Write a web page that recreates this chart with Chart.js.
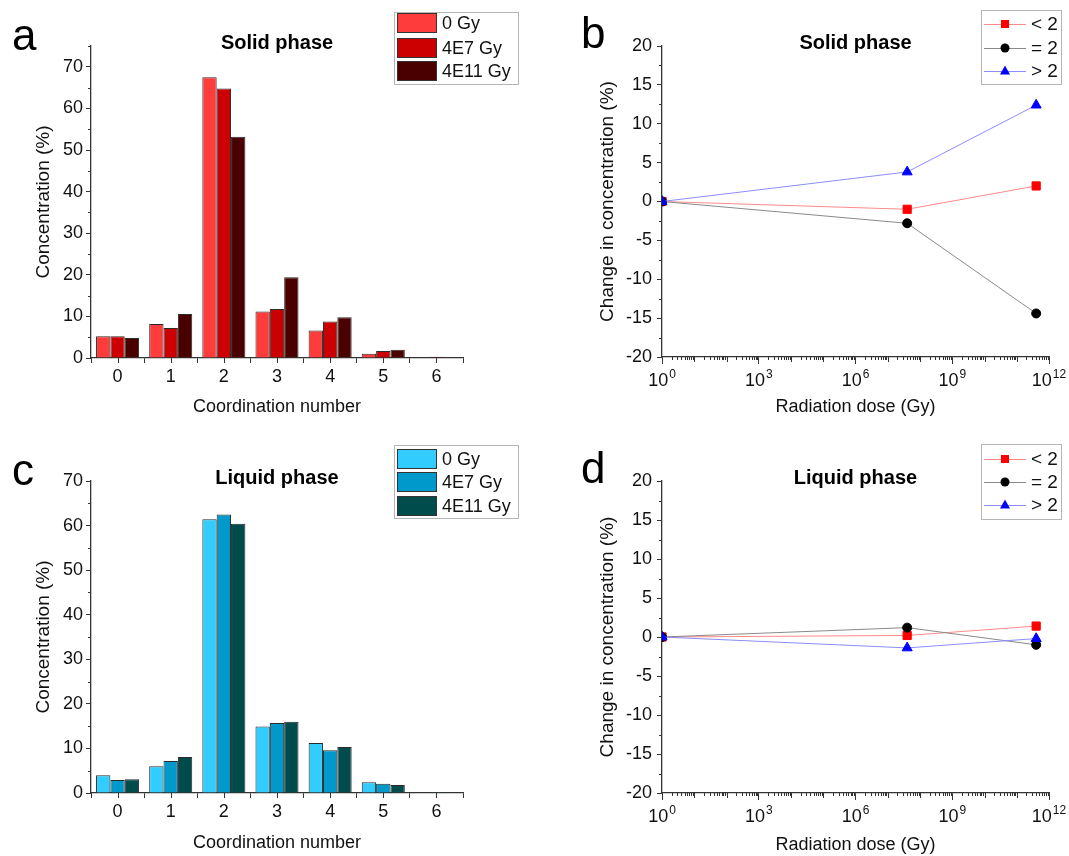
<!DOCTYPE html>
<html><head><meta charset="utf-8">
<script src="https://cdn.jsdelivr.net/npm/chart.js@4.4.1/dist/chart.umd.min.js"></script>
<style>
html,body{margin:0;padding:0;background:#fff;}
body{width:1069px;height:856px;position:relative;overflow:hidden;}
canvas{position:absolute;}
</style></head><body>
<canvas id="ca" width="534" height="428" style="left:0;top:0"></canvas>
<canvas id="cb" width="535" height="428" style="left:534px;top:0"></canvas>
<canvas id="cc" width="534" height="428" style="left:0;top:428px"></canvas>
<canvas id="cd" width="535" height="428" style="left:534px;top:428px"></canvas>
<script>
// ---------- data ----------
const categories = ['0','1','2','3','4','5','6'];
const doseLabels = ['0 Gy','4E7 Gy','4E11 Gy'];
const solid0    = [5.2, 8.2, 67.5, 11.2, 6.6, 1.0, 0.1];
const solid4E7  = [5.2, 7.2, 64.8, 11.8, 8.8, 1.7, 0.3];
const solid4E11 = [4.8, 10.6, 53.2, 19.4, 9.8, 2.0, 0.1];
const liquid0    = [4.0, 6.0, 61.4, 14.9, 11.2, 2.4, 0.1];
const liquid4E7  = [2.9, 7.2, 62.5, 15.7, 9.6, 2.1, 0.05];
const liquid4E11 = [3.1, 8.1, 60.4, 16.0, 10.3, 1.8, 0.1];
const barTicks = [0,10,20,30,40,50,60,70];

const doses = [1, 4e7, 4e11];
const groupLabels = ['< 2', '= 2', '> 2'];
const solidLt2 = [0, -1.0, 2.0];
const solidEq2 = [0, -2.8, -14.4];
const solidGt2 = [0, 3.8, 12.4];
const liquidLt2 = [0, 0.2, 1.4];
const liquidEq2 = [0, 1.2, -1.0];
const liquidGt2 = [0, -1.4, -0.2];
const logTickExps = [0, 3, 6, 9, 12];
const lineTicks = [-20,-15,-10,-5,0,5,10,15,20];

// ---------- styling ----------
const FONT = "'Liberation Sans', Arial, sans-serif";
const AX = '#333';
const redColors = ['#ff3c3c', '#cc0000', '#4b0000'];
const cyanColors = ['#33ccff', '#0099cc', '#004b4b'];
const lineStyles = [
  {line:'#ff8a8a', marker:'#ff0000', point:'rect'},
  {line:'#8a8a8a', marker:'#000000', point:'circle'},
  {line:'#8c8cff', marker:'#0000ff', point:'triangle'}
];

function drawMarker(ctx, style, x, y, color){
  ctx.fillStyle = color;
  ctx.beginPath();
  if (style === 'rect') { ctx.rect(x-4, y-4, 8, 8); }
  else if (style === 'circle') { ctx.arc(x, y, 4.5, 0, Math.PI*2); }
  else { ctx.moveTo(x, y-5.5); ctx.lineTo(x+5, y+3.5); ctx.lineTo(x-5, y+3.5); ctx.closePath(); }
  ctx.fill();
}

const decor = {
  id: 'decor',
  afterDraw(chart, args, o) {
    const ctx = chart.ctx, ca = chart.chartArea;
    const ys = chart.scales.y, xs = chart.scales.x;
    ctx.save();
    ctx.strokeStyle = AX; ctx.lineWidth = 1;
    // minor y ticks
    for (let v = ys.min; v <= ys.max + 1e-9; v += o.yMinor) {
      if (Math.abs(v / o.yMajor - Math.round(v / o.yMajor)) < 1e-6) continue;
      const py = Math.round(ys.getPixelForValue(v)) + 0.5;
      ctx.beginPath(); ctx.moveTo(ca.left, py); ctx.lineTo(ca.left - 3, py); ctx.stroke();
    }
    if (o.kind === 'bar') {
      for (let i = 0; i < chart.data.labels.length; i++) {
        const px = Math.round(xs.getPixelForValue(i)) + 0.5;
        ctx.beginPath(); ctx.moveTo(px, ca.bottom); ctx.lineTo(px, ca.bottom + 5); ctx.stroke();
      }
    } else {
      for (let k = 0; k < 12; k++) {
        for (let m = 1; m <= 9; m++) {
          if (m === 1 && k % 3 === 0) continue;
          const px = Math.round(xs.getPixelForValue(m * Math.pow(10, k))) + 0.5;
          const len = m === 1 ? 5 : 3;
          ctx.beginPath(); ctx.moveTo(px, ca.bottom); ctx.lineTo(px, ca.bottom + len); ctx.stroke();
        }
      }
      // decade labels: "10" with superscript exponent, centred as a whole on the tick
      ctx.fillStyle = '#111';
      ctx.textAlign = 'left'; ctx.textBaseline = 'alphabetic';
      logTickExps.forEach(e => {
        const px = xs.getPixelForValue(Math.pow(10, e));
        ctx.font = '18px ' + FONT;
        const wb = ctx.measureText('10').width;
        ctx.font = '12px ' + FONT;
        const we = ctx.measureText(String(e)).width;
        const x0 = px - (wb + we + 1) / 2;
        ctx.font = '18px ' + FONT;
        ctx.fillText('10', x0, ca.bottom + 29);
        ctx.font = '12px ' + FONT;
        ctx.fillText(String(e), x0 + wb + 1, ca.bottom + 21);
      });
    }
    // title
    ctx.fillStyle = '#000';
    ctx.font = 'bold 20px ' + FONT;
    ctx.textAlign = 'center'; ctx.textBaseline = 'middle';
    ctx.fillText(o.title, (ca.left + ca.right) / 2, o.titleY);
    // panel letter
    ctx.font = '44px ' + FONT;
    ctx.textAlign = 'left'; ctx.textBaseline = 'alphabetic';
    ctx.fillText(o.letter, o.letterX, o.letterY);
    // legend
    const L = o.legend;
    ctx.strokeStyle = '#b5b5b5'; ctx.lineWidth = 1;
    ctx.strokeRect(L.x + 0.5, L.y + 0.5, L.w, L.h);
    ctx.textBaseline = 'middle';
    chart.data.datasets.forEach((ds, i) => {
      const cy = L.rows[i];
      if (o.kind === 'bar') {
        ctx.font = '18px ' + FONT;
        ctx.fillStyle = ds.backgroundColor;
        ctx.fillRect(L.x + 3, cy - 10, 40, 20);
        ctx.strokeStyle = '#333';
        ctx.strokeRect(L.x + 3.5, cy - 9.5, 39, 19);
        ctx.fillStyle = '#111';
        ctx.fillText(ds.label, L.x + 48, cy + 1);
      } else {
        ctx.font = '19px ' + FONT;
        ctx.strokeStyle = ds.borderColor; ctx.lineWidth = 1;
        ctx.beginPath(); ctx.moveTo(L.x + 3, cy + 0.5); ctx.lineTo(L.x + 45, cy + 0.5); ctx.stroke();
        drawMarker(ctx, ds.pointStyle, L.x + 24, cy, ds.pointBackgroundColor);
        ctx.fillStyle = '#111';
        ctx.fillText(ds.label, L.x + 50, cy + 1);
      }
    });
    ctx.restore();
  }
};

function axisCommon() {
  return {
    grid: {display: true, drawOnChartArea: false, drawTicks: true, tickLength: 5, color: AX, lineWidth: 1},
    border: {display: true, color: AX, width: 1.3},
  };
}

function barChart(id, series, colors, title, letterY, titleY, legend, yMax, pad, yW, xH) {
  const datasets = series.map((s, i) => ({
    label: doseLabels[i], data: s, backgroundColor: colors[i],
    borderColor: '#2a2a2a', borderWidth: 1, categoryPercentage: 0.81, barPercentage: 1.0
  }));
  return new Chart(document.getElementById(id), {
    type: 'bar',
    data: {labels: categories, datasets},
    plugins: [decor],
    options: {
      responsive: false, animation: false, events: [],
      layout: {padding: pad},
      plugins: {legend: {display: false}, tooltip: {enabled: false},
        decor: {kind: 'bar', yMinor: 5, yMajor: 10, title, titleY, letter: title === 'Solid phase' ? 'a' : 'c', letterX: 12, letterY, legend}},
      scales: {
        x: Object.assign(axisCommon(), {
          offset: true,
          ticks: {font: {size: 18, family: FONT}, color: '#111', padding: 3, maxRotation: 0},
          title: {display: true, text: 'Coordination number', font: {size: 18, family: FONT}, color: '#111', padding: 0},
          afterFit(s) { s.height = xH; }
        }),
        y: Object.assign(axisCommon(), {
          min: 0, max: yMax,
          afterBuildTicks(s) { s.ticks = barTicks.map(v => ({value: v})); },
          ticks: {font: {size: 18, family: FONT}, color: '#111', padding: 3},
          title: {display: true, text: 'Concentration (%)', font: {size: 19, family: FONT}, color: '#111', padding: 0},
          afterFit(s) { s.width = yW; }
        })
      }
    }
  });
}

function lineChart(id, series, title, letterY, titleY, legend, pad, yW, xH) {
  const datasets = series.map((s, i) => ({
    label: groupLabels[i],
    data: doses.map((d, j) => ({x: d, y: s[j]})),
    borderColor: lineStyles[i].line, borderWidth: 1,
    pointStyle: lineStyles[i].point,
    pointBackgroundColor: lineStyles[i].marker, pointBorderColor: lineStyles[i].marker,
    pointBorderWidth: 1, pointRadius: lineStyles[i].point === 'circle' ? 4.5 : 5.8,
    fill: false, tension: 0, order: 2 - i
  }));
  return new Chart(document.getElementById(id), {
    type: 'line',
    data: {datasets},
    plugins: [decor],
    options: {
      responsive: false, animation: false, events: [],
      layout: {padding: pad},
      plugins: {legend: {display: false}, tooltip: {enabled: false},
        decor: {kind: 'line', yMinor: 2.5, yMajor: 5, title, titleY, letter: title === 'Solid phase' ? 'b' : 'd', letterX: 47, letterY, legend}},
      scales: {
        x: Object.assign(axisCommon(), {
          type: 'logarithmic', min: 1, max: 1e12,
          afterBuildTicks(s) { s.ticks = logTickExps.map(e => ({value: Math.pow(10, e)})); },
          ticks: {display: false},
          grid: {display: true, drawOnChartArea: false, drawTicks: true, tickLength: 7, color: AX, lineWidth: 1},
          title: {display: true, text: 'Radiation dose (Gy)', font: {size: 18, family: FONT}, color: '#111', padding: 0},
          afterFit(s) { s.height = xH; }
        }),
        y: Object.assign(axisCommon(), {
          min: -20, max: 20,
          afterBuildTicks(s) { s.ticks = lineTicks.map(v => ({value: v})); },
          ticks: {font: {size: 18, family: FONT}, color: '#111', padding: 5},
          title: {display: true, text: 'Change in concentration (%)', font: {size: 19, family: FONT}, color: '#111', padding: 0},
          afterFit(s) { s.width = yW; }
        })
      }
    }
  });
}

barChart('ca', [solid0, solid4E7, solid4E11], redColors, 'Solid phase', 50, 43,
  {x: 394, y: 12, w: 124, h: 72, rows: [23, 48, 71]}, 75,
  {left: 32, right: 71, top: 46, bottom: 10}, 59, 60);
barChart('cc', [liquid0, liquid4E7, liquid4E11], cyanColors, 'Liquid phase', 57, 50,
  {x: 394, y: 17, w: 124, h: 73, rows: [31, 54, 78]}, 70,
  {left: 32, right: 71, top: 53, bottom: 2}, 59, 61);
lineChart('cb', [solidLt2, solidEq2, solidGt2], 'Solid phase', 48, 43,
  {x: 447, y: 10, w: 80, h: 74, rows: [24, 48, 71]},
  {left: 62, right: 20, top: 46, bottom: 10}, 66, 61);
lineChart('cd', [liquidLt2, liquidEq2, liquidGt2], 'Liquid phase', 55, 50,
  {x: 447, y: 16, w: 80, h: 75, rows: [31, 54, 77]},
  {left: 62, right: 20, top: 53, bottom: 0}, 66, 63);
</script>
</body></html>
